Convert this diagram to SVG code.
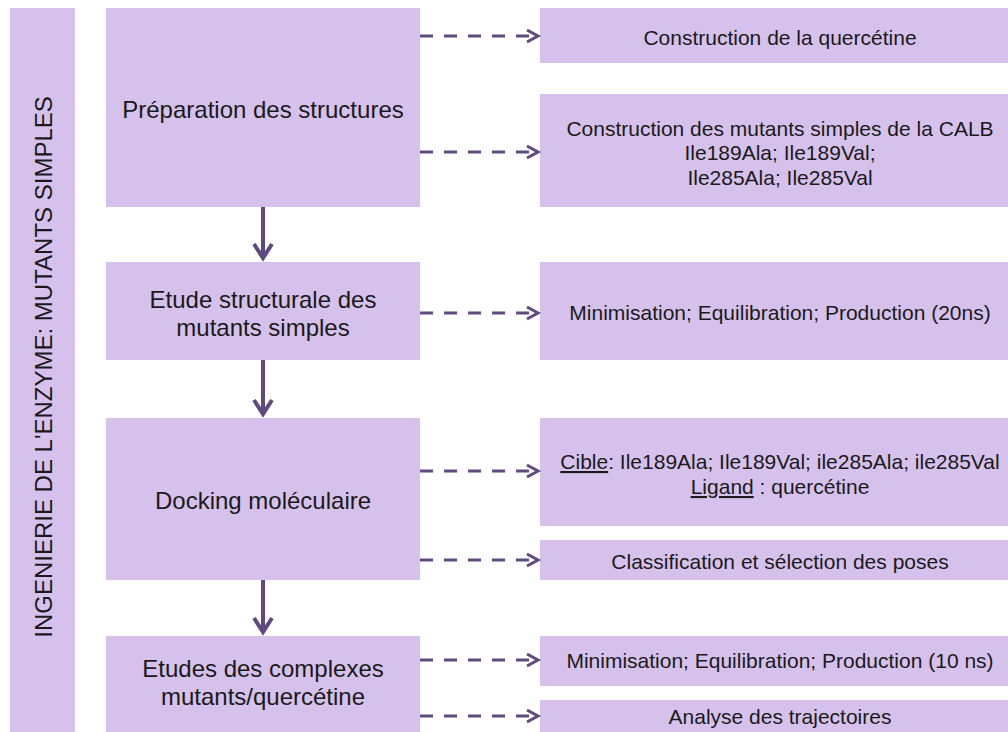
<svg xmlns="http://www.w3.org/2000/svg" width="1008" height="732" viewBox="0 0 1008 732">
<defs>
<style>
.box{fill:#D6C1ED;}
.t{font-family:"Liberation Sans",Arial,sans-serif;fill:#1a1a1a;text-anchor:middle;}
.l{font-size:24px;}
.r{font-size:21px;}
.dash{stroke:#5E4A7E;stroke-width:3;fill:none;stroke-dasharray:13 11;}
.head{stroke:#5E4A7E;stroke-width:3;fill:none;}
.solid{stroke:#5E4A7E;stroke-width:4;fill:none;}
</style>
</defs>
<rect width="1008" height="732" fill="#ffffff"/>
<g id="side">
<rect class="box" x="10" y="8" width="65" height="724"/>
<text class="t" style="font-size:24px" transform="translate(52,367) rotate(-90)">INGENIERIE DE L'ENZYME: MUTANTS SIMPLES</text>
</g>
<g id="n1"><rect class="box" x="106" y="8" width="314" height="199"/><text class="t l" x="263" y="118">Préparation des structures</text></g>
<g id="n2"><rect class="box" x="106" y="262" width="314" height="98"/><text class="t l" x="263" y="308">Etude structurale des</text><text class="t l" x="263" y="336">mutants simples</text></g>
<g id="n3"><rect class="box" x="106" y="418" width="314" height="162"/><text class="t l" x="263" y="509">Docking moléculaire</text></g>
<g id="n4"><rect class="box" x="106" y="636" width="314" height="96"/><text class="t l" x="263" y="677">Etudes des complexes</text><text class="t l" x="263" y="705">mutants/quercétine</text></g>
<g id="r1"><rect class="box" x="540" y="8" width="468" height="55"/><text class="t r" x="780" y="45">Construction de la quercétine</text></g>
<g id="r2"><rect class="box" x="540" y="94" width="468" height="113"/><text class="t r" x="780" y="136">Construction des mutants simples de la CALB</text><text class="t r" x="780" y="160">Ile189Ala; Ile189Val;</text><text class="t r" x="780" y="185">Ile285Ala; Ile285Val</text></g>
<g id="r3"><rect class="box" x="540" y="262" width="468" height="98"/><text class="t r" x="780" y="320">Minimisation; Equilibration; Production (20ns)</text></g>
<g id="r4"><rect class="box" x="540" y="418" width="468" height="108"/><text class="t r" x="780" y="469"><tspan text-decoration="underline">Cible</tspan>: Ile189Ala; Ile189Val; ile285Ala; ile285Val</text><text class="t r" x="780" y="494"><tspan text-decoration="underline">Ligand</tspan> : quercétine</text></g>
<g id="r5"><rect class="box" x="540" y="540" width="468" height="40"/><text class="t r" x="780" y="569">Classification et sélection des poses</text></g>
<g id="r6"><rect class="box" x="540" y="636" width="468" height="50"/><text class="t r" x="780" y="668">Minimisation; Equilibration; Production (10 ns)</text></g>
<g id="r7"><rect class="box" x="540" y="700" width="468" height="32"/><text class="t r" x="780" y="724">Analyse des trajectoires</text></g>
<g id="connectors">
<path class="dash" d="M420 36H535 M420 152H535 M420 313H535 M420 471H535 M420 560H535 M420 660H535 M420 716H535"/>
<path class="head" d="M527 30L538 36L527 42 M527 146L538 152L527 158 M527 307L538 313L527 319 M527 465L538 471L527 477 M527 554L538 560L527 566 M527 654L538 660L527 666 M527 710L538 716L527 722"/>
<path class="solid" d="M263 207V258 M263 360V414 M263 580V632"/>
<path class="solid" d="M254 244L263 258L272 244 M254 400L263 414L272 400 M254 618L263 632L272 618"/>
</g>
</svg>
